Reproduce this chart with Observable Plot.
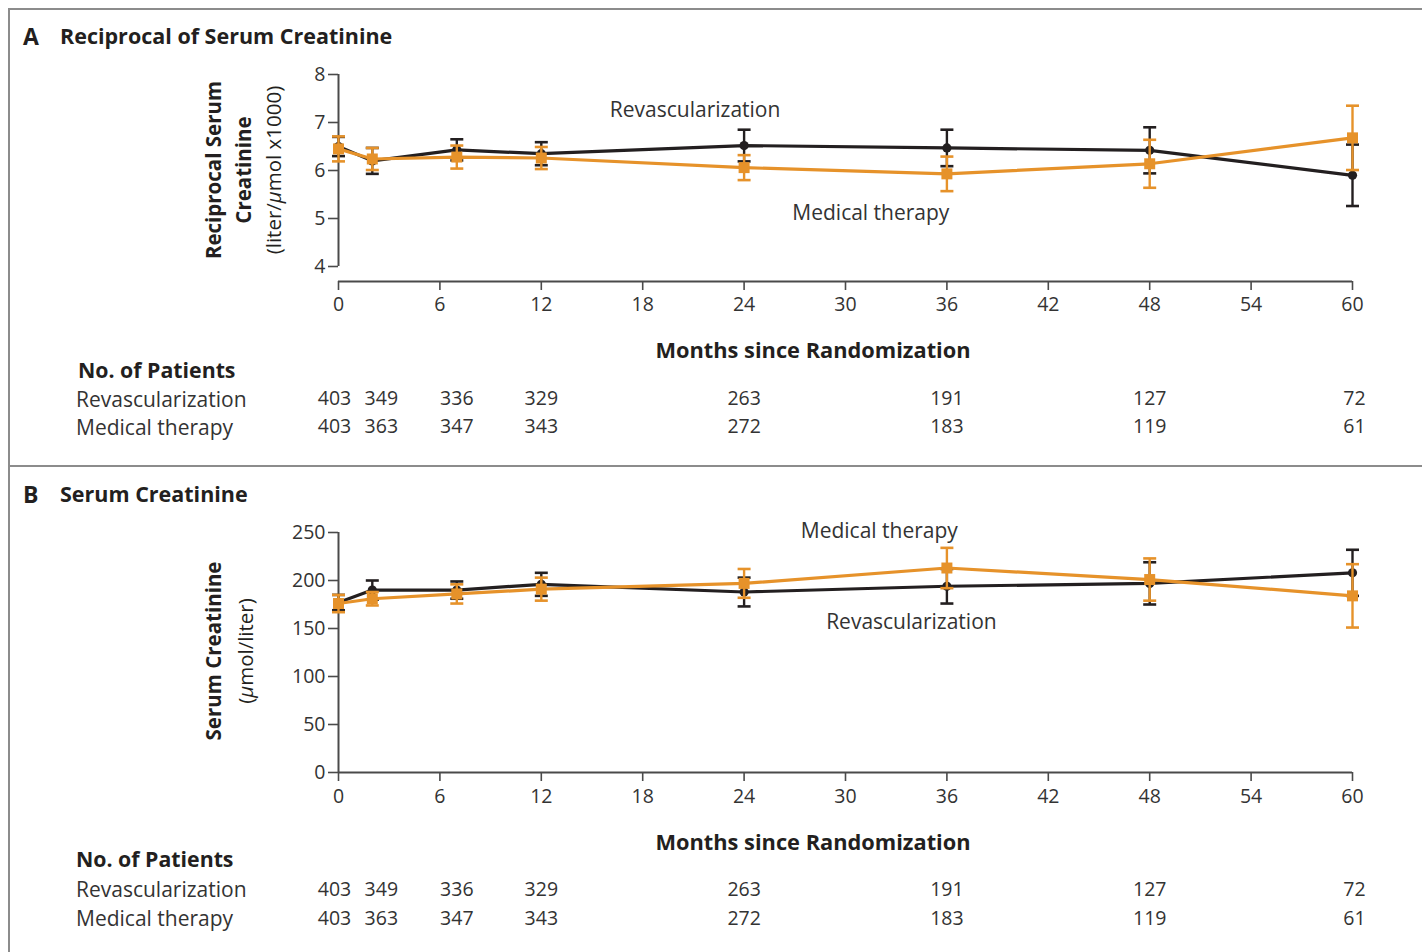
<!DOCTYPE html>
<html>
<head>
<meta charset="utf-8">
<script src="https://cdn.jsdelivr.net/npm/d3@7"></script>
<script src="https://cdn.jsdelivr.net/npm/@observablehq/plot@0.6"></script>
<style>
  html, body { margin: 0; padding: 0; background: #fff; }
  body { font-family: "Open Sans", Lato, sans-serif; color: #231f20; }
  #page { position: relative; width: 1422px; height: 952px; overflow: hidden; background: #fff; }
  .frame { position: absolute; left: 8px; top: 8px; width: 1430px; height: 1000px;
           border-left: 2px solid #8c8c8c; border-top: 2px solid #8c8c8c; }
  .divider { position: absolute; left: 8px; top: 465px; width: 1420px; height: 2px; background: #8c8c8c; }
  .abs { position: absolute; white-space: nowrap; }
  .letter { font-size: 23px; font-weight: 700; }
  .title { font-size: 21.5px; font-weight: 700; }
  .xlabel { font-size: 21.8px; font-weight: 700; transform: translate(-50%, -50%); line-height: 1; }
  .rowhead { font-size: 21.3px; font-weight: 700; transform: translateY(-50%); line-height: 1; }
  .rowlab { font-size: 21px; transform: translateY(-50%); color: #333; line-height: 1; }
  .ylab { transform: translate(-50%, -50%) rotate(-90deg); text-align: center; font-size: 20.5px; }
  .ylab b { font-weight: 700; }
  .plot { position: absolute; left: 0; }
</style>
</head>
<body>
<div id="page">
  <div class="frame"></div>
  <div class="divider"></div>

  <div class="abs letter" style="left:23px; top:20px;">A</div>
  <div class="abs title" style="left:60px; top:21px;">Reciprocal of Serum Creatinine</div>
  <div class="abs ylab" style="left:243px; top:170px; line-height:30px;"><b>Reciprocal Serum</b><br><b>Creatinine</b><br>(liter/<i>µ</i>mol x1000)</div>
  <div class="abs xlabel" style="left:813px; top:350px;">Months since Randomization</div>
  <div class="abs rowhead" style="left:78px; top:370px;">No. of Patients</div>
  <div class="abs rowlab" style="left:76px; top:399px;">Revascularization</div>
  <div class="abs rowlab" style="left:76px; top:427px;">Medical therapy</div>

  <div class="abs letter" style="left:23px; top:478px;">B</div>
  <div class="abs title" style="left:60px; top:479px;">Serum Creatinine</div>
  <div class="abs ylab" style="left:229px; top:651px; line-height:32px;"><b>Serum Creatinine</b><br>(<i>µ</i>mol/liter)</div>
  <div class="abs xlabel" style="left:813px; top:842px;">Months since Randomization</div>
  <div class="abs rowhead" style="left:76px; top:859px;">No. of Patients</div>
  <div class="abs rowlab" style="left:76px; top:889px;">Revascularization</div>
  <div class="abs rowlab" style="left:76px; top:918px;">Medical therapy</div>

  <div id="plotA" class="plot" style="top:50px;"></div>
  <div id="plotB" class="plot" style="top:480px;"></div>
</div>

<script>
// ---------------- data ----------------
const months = [0, 2, 7, 12, 24, 36, 48, 60];
const xTicks = [0, 6, 12, 18, 24, 30, 36, 42, 48, 54, 60];

// Panel A: reciprocal of serum creatinine (liter/µmol x1000)
const recipRevascMean = [6.50, 6.20, 6.43, 6.35, 6.52, 6.47, 6.42, 5.90];
const recipRevascErr  = [0.20, 0.27, 0.22, 0.24, 0.33, 0.38, 0.48, 0.64];
const recipMedMean    = [6.45, 6.24, 6.28, 6.26, 6.06, 5.93, 6.14, 6.68];
const recipMedErr     = [0.26, 0.23, 0.24, 0.23, 0.26, 0.36, 0.50, 0.67];
const recipTicks = [4, 5, 6, 7, 8];

// Panel B: serum creatinine (µmol/liter)
const creatRevascMean = [177, 190, 190, 196, 188, 194, 197, 208];
const creatRevascErr  = [8, 10, 9, 12, 15, 18, 22, 24];
const creatMedMean    = [176, 181, 186, 191, 197, 213, 201, 184];
const creatMedErr     = [9, 7, 10, 12, 15, 21, 22, 33];
const creatTicks = [0, 50, 100, 150, 200, 250];

// Numbers at risk
const nRevasc = [403, 349, 336, 329, 263, 191, 127, 72];
const nMed    = [403, 363, 347, 343, 272, 183, 119, 61];

// In-plot series labels
const labelsA = [
  {text: "Revascularization", month: 21.1, value: 7.25},
  {text: "Medical therapy",   month: 31.5, value: 5.10}
];
const labelsB = [
  {text: "Medical therapy",   month: 32.0, value: 251},
  {text: "Revascularization", month: 33.9, value: 156}
];

// ---------------- drawing ----------------
const FONT = "'Open Sans', Lato, sans-serif";
const BLACK = "#231f20";
const ORANGE = "#e6922a";
const AXIS = "#4a4a4a";

const capSymbol = {
  draw(context, size) {
    const w = Math.sqrt(size / Math.PI);
    context.moveTo(-w, 0);
    context.lineTo(w, 0);
  }
};

function series(means, errs) {
  return months.map((m, i) => ({month: m, mean: means[i], lo: means[i] - errs[i], hi: means[i] + errs[i]}));
}
function counts() {
  return months.map((m, i) => ({month: m, rev: nRevasc[i], med: nMed[i]}));
}

function seriesMarks(data, color, symbol, r) {
  return [
    Plot.ruleX(data, {x: "month", y1: "lo", y2: "hi", stroke: color, strokeWidth: 2.4}),
    Plot.dot(data, {x: "month", y: "lo", symbol: capSymbol, r: 6.5, stroke: color, strokeWidth: 2.6, fill: "none"}),
    Plot.dot(data, {x: "month", y: "hi", symbol: capSymbol, r: 6.5, stroke: color, strokeWidth: 2.6, fill: "none"}),
    Plot.line(data, {x: "month", y: "mean", stroke: color, strokeWidth: 3.2}),
    Plot.dot(data, {x: "month", y: "mean", symbol, r, fill: color, stroke: "none"})
  ];
}

function countMarks(y, dy1, dy2) {
  const c = counts();
  const marks = [];
  const common = {fontSize: 19.5, fill: "#333", fontFamily: FONT};
  const groups = [
    {filter: (d, i) => i === 0, dx: -4},
    {filter: (d, i) => i === 1, dx: 9},
    {filter: (d, i) => i > 1 && i < 7, dx: 0},
    {filter: (d, i) => i === 7, dx: 2}
  ];
  for (const g of groups) {
    marks.push(Plot.text(c, {x: "month", y: () => y, text: "rev", dy: dy1, dx: g.dx, filter: g.filter, ...common}));
    marks.push(Plot.text(c, {x: "month", y: () => y, text: "med", dy: dy2, dx: g.dx, filter: g.filter, ...common}));
  }
  return marks;
}

function panel({height, marginTop, marginBottom, yDomain, yTicks, yAxisLo, yAxisHi, xAxisY, revasc, med, labels, dy1, dy2, xPad}) {
  return Plot.plot({
    width: 1422,
    height,
    marginLeft: 338,
    marginRight: 70,
    marginTop,
    marginBottom,
    style: {fontFamily: FONT, background: "none", overflow: "visible", color: "#333"},
    x: {domain: [0, 60]},
    y: {domain: yDomain},
    marks: [
      Plot.axisX({ticks: xTicks, tickFormat: d => String(d), tickSize: 9, tickPadding: xPad, label: null, fontSize: 19.5, stroke: AXIS, strokeWidth: 1.6, fill: "#333"}),
      Plot.axisY({ticks: yTicks, tickFormat: d => String(d), tickSize: 10, tickPadding: 3, label: null, fontSize: 19.5, stroke: AXIS, strokeWidth: 1.6, fill: "#333"}),
      Plot.ruleX([0], {y1: yAxisLo, y2: yAxisHi, stroke: AXIS, strokeWidth: 2}),
      Plot.ruleY([xAxisY], {stroke: AXIS, strokeWidth: 2}),
      ...seriesMarks(revasc, BLACK, "circle", 4.6),
      ...seriesMarks(med, ORANGE, "square", 6.2),
      Plot.text(labels, {x: "month", y: "value", text: "text", fontSize: 21, fill: "#333", fontFamily: FONT}),
      ...countMarks(xAxisY, dy1, dy2)
    ]
  });
}

const yMinA = 3.6875;
document.getElementById("plotA").append(panel({
  height: 410, marginTop: 24, marginBottom: 179,
  yDomain: [yMinA, 8], yTicks: recipTicks, yAxisLo: 4, yAxisHi: 8, xAxisY: yMinA,
  revasc: series(recipRevascMean, recipRevascErr),
  med: series(recipMedMean, recipMedErr),
  labels: labelsA, dy1: 117, dy2: 145, xPad: 7
}));

document.getElementById("plotB").append(panel({
  height: 472, marginTop: 52, marginBottom: 180,
  yDomain: [0, 250], yTicks: creatTicks, yAxisLo: 0, yAxisHi: 250, xAxisY: 0,
  revasc: series(creatRevascMean, creatRevascErr),
  med: series(creatMedMean, creatMedErr),
  labels: labelsB, dy1: 117, dy2: 146, xPad: 8
}));
</script>
</body>
</html>
